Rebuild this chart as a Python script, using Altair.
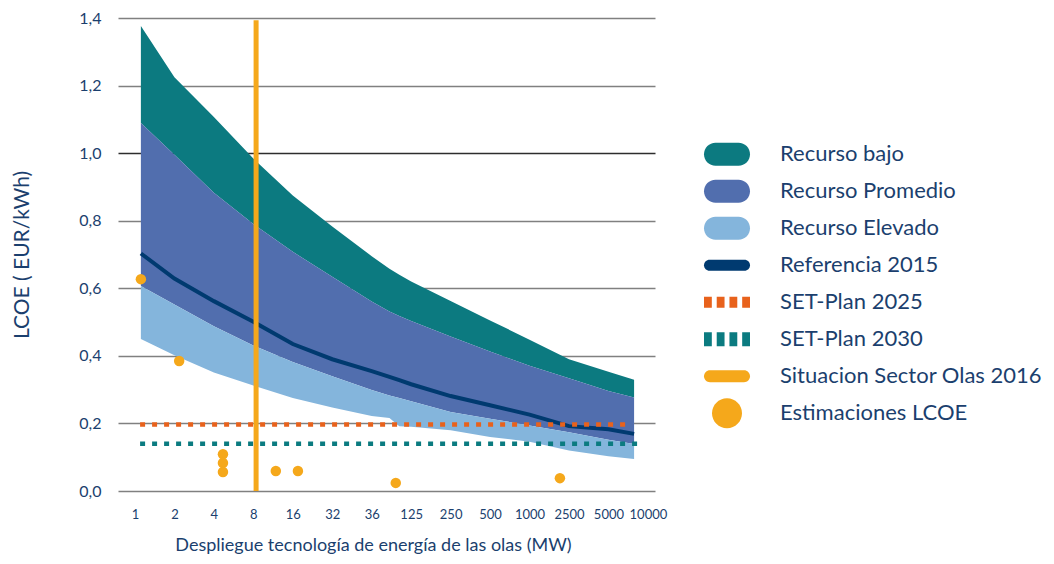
import altair as alt
import pandas as pd

# ---------------- data ----------------
tick_labels = ["1", "2", "4", "8", "16", "32", "36", "125", "250", "500",
               "1000", "2500", "5000", "10000"]

# x in tick-index units (0 -> "1" MW ... 13 -> "10000" MW)
x_pos = [0.15, 1.0, 2.0, 3.0, 4.0, 5.0, 6.0, 6.45, 6.7, 7.0, 8.0, 9.0, 10.0, 11.0, 12.0, 12.65]
bajo_top = [1.376, 1.225, 1.107, 0.984, 0.875, 0.783, 0.695, 0.658, 0.640, 0.620,
            0.562, 0.505, 0.448, 0.390, 0.353, 0.329]
promedio_top = [1.089, 0.995, 0.883, 0.790, 0.708, 0.634, 0.561, 0.531, 0.518, 0.503,
                0.457, 0.413, 0.371, 0.334, 0.296, 0.277]
elevado_top = [0.607, 0.552, 0.488, 0.431, 0.382, 0.340, 0.299, 0.283, 0.275, 0.266,
               0.234, 0.214, 0.194, 0.174, 0.152, 0.139]
elevado_bottom = [0.450, 0.402, 0.351, 0.312, 0.275, 0.247, 0.222, 0.216, 0.192, 0.190,
                  0.180, 0.160, 0.146, 0.120, 0.103, 0.095]
referencia_2015 = [0.703, 0.629, 0.562, 0.501, 0.435, 0.390, 0.355, 0.338, 0.328, 0.316,
                   0.281, 0.254, 0.226, 0.192, 0.183, 0.169]

est_x = [0.15, 1.12, 2.23, 2.23, 2.23, 3.57, 4.13, 6.61, 10.77]
est_y = [0.627, 0.385, 0.109, 0.083, 0.056, 0.059, 0.059, 0.024, 0.038]

sector_x = [3.07]
sector_top = [1.393]

set_names = ["SET-Plan 2025", "SET-Plan 2030"]
set_values = [0.197, 0.14]
set_start = [0.13, 0.13]
set_end = [12.6, 12.77]

legend_names = ["Recurso bajo", "Recurso Promedio", "Recurso Elevado", "Referencia 2015",
                "SET-Plan 2025", "SET-Plan 2030", "Situacion Sector Olas 2016",
                "Estimaciones LCOE"]

# ---------------- styles ----------------
C_BAJO = "#0c7a80"
C_PROM = "#516eae"
C_ELEV = "#84b5dc"
C_REF = "#003a70"
C_SET25 = "#e8621c"
C_SET30 = "#0b7b80"
C_ORANGE = "#f5a81b"
NAVY = "#1b3f6e"
FONT = "Lato"

legend_colors = [C_BAJO, C_PROM, C_ELEV, C_REF, C_SET25, C_SET30, C_ORANGE, C_ORANGE]


def pill(hh):
    a = -1 + hh
    b = 1 - hh
    return (f"M{a},{-hh}L{b},{-hh}A{hh},{hh} 0 0 1 {b},{hh}"
            f"L{a},{hh}A{hh},{hh} 0 0 1 {a},{-hh}Z")


def dashes(hh):
    segs = [(-1, -0.66), (-0.447, -0.107), (0.107, 0.447), (0.66, 1)]
    return "".join(f"M{s},{-hh}L{e},{-hh}L{e},{hh}L{s},{hh}Z" for s, e in segs)


r = 0.652
circle_path = f"M{-r},0A{r},{r} 0 1 1 {r},0A{r},{r} 0 1 1 {-r},0Z"
legend_paths = [pill(0.5), pill(0.5), pill(0.5), pill(0.24), dashes(0.24), dashes(0.3),
                pill(0.26), circle_path]

# ---------------- tables ----------------
curves = pd.DataFrame({"x": x_pos, "bajo": bajo_top, "prom": promedio_top,
                       "elev_top": elevado_top, "elev_bot": elevado_bottom,
                       "ref": referencia_2015})
est = pd.DataFrame({"x": est_x, "y": est_y})
sector = pd.DataFrame({"x": sector_x, "y": [0.0], "y2": sector_top})
sets = pd.DataFrame({"x": set_start, "x2": set_end, "y": set_values, "name": set_names})
leg = pd.DataFrame({"name": legend_names, "row": list(range(len(legend_names)))})

# ---------------- scales & axes ----------------
x_scale = alt.Scale(domain=[-0.43, 13.18], nice=False, zero=False)
y_scale = alt.Scale(domain=[0, 1.4], nice=False, zero=False)

label_js = "[" + ",".join(f"'{t}'" for t in tick_labels) + "][datum.value]"

x_axis = alt.Axis(values=list(range(len(tick_labels))), labelExpr=label_js, grid=False,
                  domain=False, ticks=False, tickSize=0, labelFont=FONT, labelFontSize=13,
                  labelColor=NAVY, labelPadding=17, labelOverlap=False, labelFlush=False,
                  title="Despliegue tecnología de energía de las olas (MW)",
                  titleFont=FONT, titleFontSize=18, titleFontWeight="normal",
                  titleColor=NAVY, titlePadding=15, titleX=255, titleAlign="center")

y_axis = alt.Axis(values=[0, 0.2, 0.4, 0.6, 0.8, 1.0, 1.2, 1.4],
                  labelExpr="replace(format(datum.value, '.1f'), '.', ',')",
                  grid=True,
                  gridColor={"condition": {"test": "datum.value === 1", "value": "#2d2d2d"},
                             "value": "#808080"},
                  gridWidth=1.6, domain=False, ticks=False, tickSize=0, labelFont=FONT,
                  labelFontSize=16, labelColor=NAVY, labelPadding=17, labelOverlap=False,
                  title="LCOE ( EUR/kWh)", titleFont=FONT, titleFontSize=21,
                  titleFontWeight="normal", titleColor=NAVY, titlePadding=46)


def X(field):
    return alt.X(field, type="quantitative", scale=x_scale, axis=x_axis)


def Y(field):
    return alt.Y(field, type="quantitative", scale=y_scale, axis=y_axis)


base = alt.Chart(curves)
band_bajo = base.mark_area(color=C_BAJO, opacity=1).encode(
    x=X("x"), y=Y("prom"), y2="bajo:Q")
band_prom = base.mark_area(color=C_PROM, opacity=1).encode(
    x=X("x"), y=Y("elev_top"), y2="prom:Q")
band_elev = base.mark_area(color=C_ELEV, opacity=1).encode(
    x=X("x"), y=Y("elev_bot"), y2="elev_top:Q")
ref_line = base.mark_line(color=C_REF, strokeWidth=4).encode(x=X("x"), y=Y("ref"))

set_rules = alt.Chart(sets).mark_rule(strokeWidth=4.5, strokeDash=[5, 7]).encode(
    x=X("x"), x2="x2:Q", y=Y("y"),
    color=alt.Color("name:N", scale=alt.Scale(domain=set_names, range=[C_SET25, C_SET30]),
                    legend=None))

sector_rule = alt.Chart(sector).mark_rule(color=C_ORANGE, strokeWidth=5).encode(
    x=X("x"), y=Y("y"), y2="y2:Q")

dots = alt.Chart(est).mark_circle(color=C_ORANGE, size=110, opacity=1).encode(
    x=X("x"), y=Y("y"))

main = alt.layer(band_bajo, band_prom, band_elev, ref_line, set_rules, sector_rule,
                 dots).properties(width=537, height=473)

# ---------------- legend panel ----------------
leg_y = alt.Y("row:Q", scale=alt.Scale(domain=[-3.68, 9.10], reverse=True, nice=False,
                                       zero=False), axis=None)
sym = alt.Chart(leg).mark_point(filled=True, size=2116, opacity=1, strokeWidth=0).encode(
    x=alt.value(27), y=leg_y,
    shape=alt.Shape("name:N", scale=alt.Scale(domain=legend_names, range=legend_paths),
                    legend=None),
    color=alt.Color("name:N", scale=alt.Scale(domain=legend_names, range=legend_colors),
                    legend=None))
txt = alt.Chart(leg).mark_text(align="left", baseline="middle", font=FONT, fontSize=22,
                               color=NAVY).encode(x=alt.value(80), y=leg_y, text="name:N")
legend_panel = alt.layer(sym, txt).resolve_scale(color="independent").properties(
    width=330, height=473)

chart = alt.hconcat(main, legend_panel, spacing=33).properties(
    padding={"left": 3, "top": 2, "right": 0, "bottom": 0}).configure_view(stroke=None)

chart.save("out.html", embed_options={"renderer": "svg", "actions": False})
